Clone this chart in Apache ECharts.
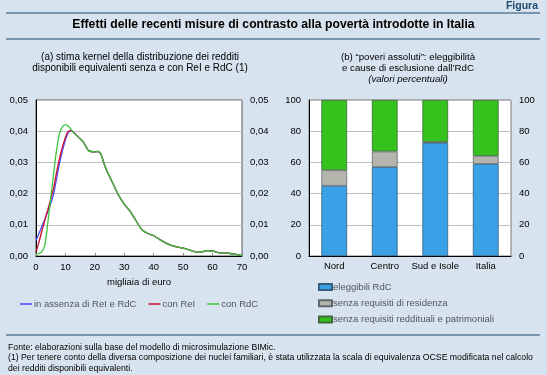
<!DOCTYPE html>
<html>
<head>
<meta charset="utf-8">
<script src="https://cdn.jsdelivr.net/npm/echarts@6/dist/echarts.min.js"></script>
<style>
  html, body { margin: 0; padding: 0; background: #d7e3ee; }
  #chart { width: 547px; height: 375px; }
</style>
</head>
<body>
<div id="chart"></div>
<script>
// (a) kernel density, migliaia di euro
var incomeX = [0, 1, 2, 3, 4, 5, 6, 7, 8, 9, 10, 11, 12, 13, 14, 16, 18, 20, 21, 22, 23, 24, 26, 28, 30,
  32, 34, 36, 38, 40, 42, 44, 46, 48, 50, 52, 54, 56, 58, 60, 62, 64, 66, 68, 70];
// tail is shared by all three curves from x = 13 on
var tail = [0.0394, 0.0385, 0.0366, 0.0337, 0.0334, 0.0335, 0.0328, 0.0300, 0.0275, 0.0235, 0.0196, 0.0166,
  0.0143, 0.0113, 0.0084, 0.0072, 0.0065, 0.0053, 0.0042, 0.0034, 0.0029, 0.0025, 0.0020, 0.0014, 0.0012,
  0.0017, 0.0016, 0.0011, 0.0010, 0.0008, 0.0005, 0.0001];
var senza = [0.0050, 0.0072, 0.0095, 0.0118, 0.0142, 0.0168, 0.0200, 0.0248, 0.0298, 0.0338, 0.0372, 0.0396, 0.0402].concat(tail);
var conRel = [0.0012, 0.0045, 0.0080, 0.0115, 0.0148, 0.0182, 0.0218, 0.0270, 0.0313, 0.0350, 0.0380, 0.0400, 0.0402].concat(tail);
var conRdC = [0.0005, 0.0008, 0.0014, 0.0035, 0.0105, 0.0185, 0.0265, 0.0340, 0.0392, 0.0415, 0.0420, 0.0416, 0.0405].concat(tail);

// (b) poveri assoluti, valori percentuali
var areas = ['Nord', 'Centro', 'Sud e Isole', 'Italia'];
var eleggibili = [45, 57, 72.5, 59];
var residenza = [10, 10, 0.6, 5.2];
var reddituali = [45, 33, 26.9, 35.8];

function pairs(xs, ys) {
  return xs.map(function (x, i) { return [x, ys[i]]; });
}
function comma(v) { return v.toFixed(2).replace('.', ','); }

var font = "'Liberation Sans', Arial, sans-serif";
var dark = '#1f4a70';
var chart = echarts.init(document.getElementById('chart'));

var lblL = { fontSize: 9.5, color: '#000', fontFamily: font, formatter: comma };
var lblR = { fontSize: 9.5, color: '#000', fontFamily: font };

var option = {
  backgroundColor: '#d7e3ee',
  animation: false,
  textStyle: { fontFamily: font, color: '#000' },
  graphic: [
    { type: 'text', right: 9, top: 1, style: { text: 'Figura', font: 'bold 10.5px ' + font, fill: dark } },
    { type: 'line', shape: { x1: 6, y1: 13, x2: 540, y2: 13 }, style: { stroke: dark, lineWidth: 1 } },
    { type: 'text', left: 'center', top: 19, style: { text: 'Effetti delle recenti misure di contrasto alla povertà introdotte in Italia', font: 'bold 12.2px ' + font, fill: '#000' } },
    { type: 'line', shape: { x1: 6, y1: 39, x2: 540, y2: 39 }, style: { stroke: dark, lineWidth: 1 } },
    { type: 'text', x: 140, y: 52, style: { text: '(a) stima kernel della distribuzione dei redditi\ndisponibili equivalenti senza e con ReI e RdC (1)', font: '10px ' + font, fill: '#000', align: 'center', lineHeight: 11 } },
    { type: 'text', x: 408, y: 52, style: { text: '(b) “poveri assoluti”: eleggibilità\ne cause di esclusione dall’RdC', font: '9.7px ' + font, fill: '#000', align: 'center', lineHeight: 11 } },
    { type: 'text', x: 408, y: 74, style: { text: '(valori percentuali)', font: 'italic 9.7px ' + font, fill: '#000', align: 'center' } },
    { type: 'line', shape: { x1: 6, y1: 335, x2: 540, y2: 335 }, style: { stroke: dark, lineWidth: 1 } },
    { type: 'text', x: 8, y: 342, style: { text: 'Fonte: elaborazioni sulla base del modello di microsimulazione BIMic.\n(1) Per tenere conto della diversa composizione dei nuclei familiari, è stata utilizzata la scala di equivalenza OCSE modificata nel calcolo\ndei redditi disponibili equivalenti.', font: '8.7px ' + font, fill: '#000', lineHeight: 10.5 } }
  ],
  legend: [
    {
      data: ['in assenza di ReI e RdC', 'con ReI', 'con RdC'],
      left: 15, top: 294,
      icon: 'rect', itemWidth: 12, itemHeight: 1.5, itemGap: 12,
      textStyle: { fontSize: 9.5, fontFamily: font, padding: [0, 0, 0, -3] }
    },
    {
      data: ['eleggibili RdC', 'senza requisiti di residenza', 'senza requisiti reddituali e patrimoniali'],
      orient: 'vertical', left: 313, top: 277,
      icon: 'rect', itemWidth: 13, itemHeight: 6, itemGap: 6.2,
      textStyle: { fontSize: 9.5, fontFamily: font, padding: [0, 0, 0, -4] }
    }
  ],
  grid: [
    { left: 36, top: 100, width: 206, height: 156, show: true, backgroundColor: '#fff', borderColor: '#555', borderWidth: 1 },
    { left: 309, top: 100, width: 202, height: 156, show: true, backgroundColor: '#fff', borderColor: '#777', borderWidth: 1 }
  ],
  xAxis: [
    {
      gridIndex: 0, type: 'value', min: 0, max: 70, interval: 10,
      name: 'migliaia di euro', nameLocation: 'middle', nameGap: 21,
      nameTextStyle: { fontSize: 9.5, fontFamily: font, color: '#000' },
      axisLine: { lineStyle: { color: '#000', width: 1 } },
      axisTick: { inside: true, length: 3, lineStyle: { color: '#888' } },
      axisLabel: { fontSize: 9.5, color: '#000', fontFamily: font, margin: 6 },
      splitLine: { show: false }
    },
    {
      gridIndex: 1, type: 'category', data: areas,
      axisLine: { lineStyle: { color: '#000', width: 1 } },
      axisTick: { inside: true, length: 3, lineStyle: { color: '#888' } },
      axisLabel: { fontSize: 9.5, color: '#000', fontFamily: font, margin: 5, interval: 0 }
    }
  ],
  yAxis: [
    {
      gridIndex: 0, min: 0, max: 0.05, interval: 0.01,
      axisLine: { show: true, lineStyle: { color: '#000', width: 1 } },
      axisTick: { show: false },
      axisLabel: lblL,
      splitLine: { lineStyle: { color: '#bdbdbd', width: 1 } }
    },
    {
      gridIndex: 0, min: 0, max: 0.05, interval: 0.01, position: 'right',
      axisLine: { show: false }, axisTick: { show: false },
      axisLabel: lblL,
      splitLine: { show: false }
    },
    {
      gridIndex: 1, min: 0, max: 100, interval: 20,
      axisLine: { show: true, lineStyle: { color: '#000', width: 1 } },
      axisTick: { show: false },
      axisLabel: lblR,
      splitLine: { lineStyle: { color: '#bdbdbd', width: 1 } }
    },
    {
      gridIndex: 1, min: 0, max: 100, interval: 20, position: 'right',
      axisLine: { show: false }, axisTick: { show: false },
      axisLabel: lblR,
      splitLine: { show: false }
    }
  ],
  series: [
    { name: 'in assenza di ReI e RdC', type: 'line', xAxisIndex: 0, yAxisIndex: 0, data: pairs(incomeX, senza), smooth: 0.3, showSymbol: false, color: '#4a4aff', lineStyle: { width: 1.3 } },
    { name: 'con ReI', type: 'line', xAxisIndex: 0, yAxisIndex: 0, data: pairs(incomeX, conRel), smooth: 0.3, showSymbol: false, color: '#c8102e', lineStyle: { width: 1.3 } },
    { name: 'con RdC', type: 'line', xAxisIndex: 0, yAxisIndex: 0, data: pairs(incomeX, conRdC), smooth: 0.3, showSymbol: false, color: '#3cc43c', lineStyle: { width: 1.3 } },
    { name: 'eleggibili RdC', type: 'bar', stack: 'b', xAxisIndex: 1, yAxisIndex: 2, data: eleggibili, barWidth: '51%', itemStyle: { color: '#3aa1e6', borderColor: '#34607f', borderWidth: 0.8 } },
    { name: 'senza requisiti di residenza', type: 'bar', stack: 'b', xAxisIndex: 1, yAxisIndex: 2, data: residenza, barWidth: '51%', itemStyle: { color: '#b5b5ae', borderColor: '#5f6a70', borderWidth: 0.8 } },
    { name: 'senza requisiti reddituali e patrimoniali', type: 'bar', stack: 'b', xAxisIndex: 1, yAxisIndex: 2, data: reddituali, barWidth: '51%', itemStyle: { color: '#35c21d', borderColor: '#3f6a3a', borderWidth: 0.8 } }
  ]
};
chart.setOption(option);
</script>
</body>
</html>
